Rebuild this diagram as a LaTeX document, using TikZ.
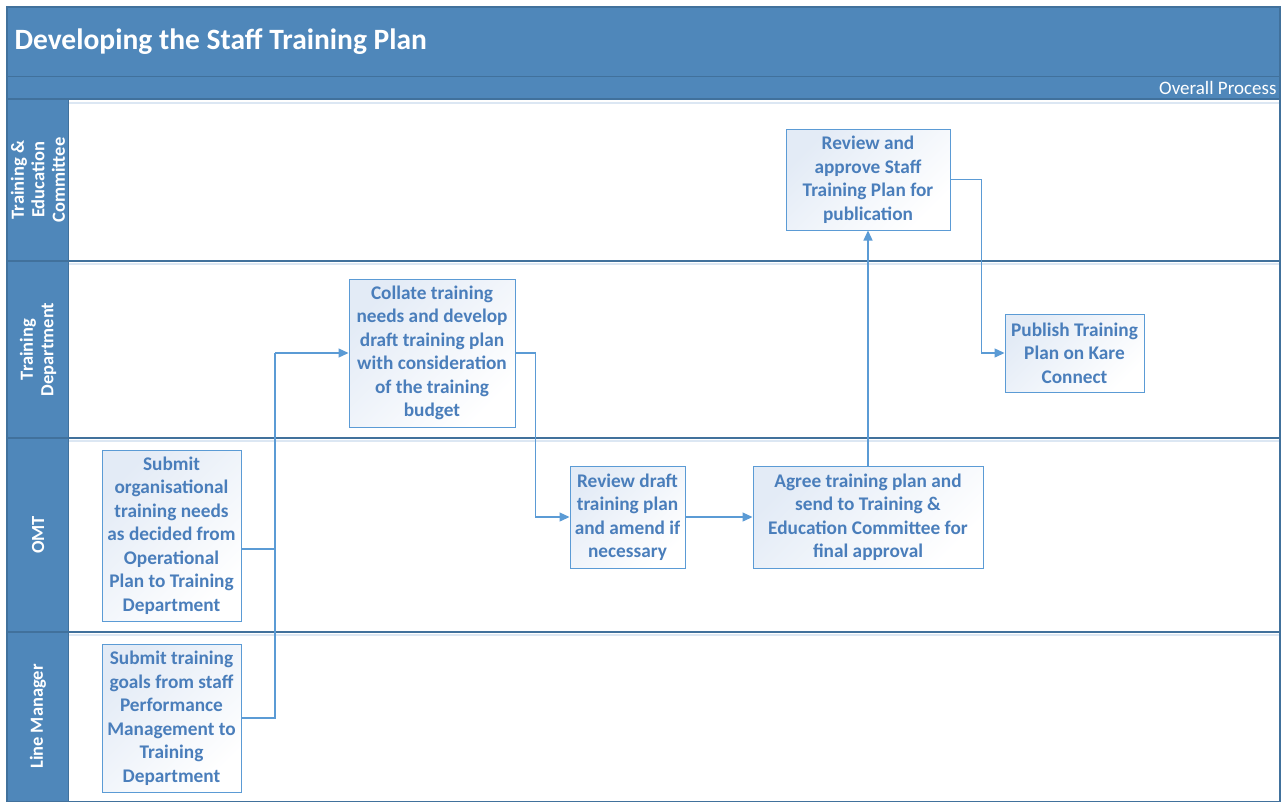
\documentclass[tikz,border=0pt]{standalone}
\usepackage{fontspec}
\setmainfont{Carlito}
\usetikzlibrary{arrows.meta,calc}
\definecolor{hdr}{HTML}{4F87BA}
\definecolor{hdrdark}{HTML}{41719C}
\definecolor{boxline}{HTML}{5B9BD5}
\definecolor{boxtext}{HTML}{4A7EBB}
\definecolor{boxfill}{HTML}{E3EBF6}
\definecolor{shadowc}{HTML}{DCE7F3}
\tikzset{
  box/.style={draw=boxline, line width=1pt, shading=axis, left color=boxfill, right color=white, shading angle=45,
    text=boxtext, font=\fontsize{19.3}{23.5}\selectfont\bfseries, align=center, inner sep=2pt},
  conn/.style={draw=boxline, line width=1.3pt, -{Triangle[length=10pt,width=9pt]}},
  link/.style={draw=boxline, line width=1.3pt},
  lanelbl/.style={rotate=90, text=white, font=\fontsize{18.5}{20.5}\selectfont\bfseries, align=center},
  laneline/.style={draw=hdrdark, line width=1.2pt},
  laneshadow/.style={draw=shadowc, line width=2pt}
}
\begin{document}
\begin{tikzpicture}[x=1pt,y=-1pt]
\useasboundingbox (0,0) rectangle (1284,801);
\fill[white] (0,0) rectangle (1284,801);
% header bands
\fill[hdr] (7,7) rectangle (1280,99);
\draw[hdrdark, line width=1pt] (7,76) -- (1280,76);
\node[anchor=west, text=white, font=\fontsize{29.5}{32}\selectfont\bfseries] (title) at (11,42) {Developing the Staff Training Plan};
\node[anchor=east, text=white, font=\fontsize{19}{21}\selectfont] (overall) at (1280,88) {Overall Process};
% lane label column
\fill[hdr] (7,99) rectangle (68,801);
% lane lines with shadows
\foreach \yy in {101,262,439,633} {\draw[laneshadow] (68,\yy+2) -- (1280,\yy+2);}
\foreach \yy in {99,261,438,632} {\draw[laneline] (7,\yy) -- (1280,\yy);}
\draw[hdrdark, line width=1pt] (68,99) -- (68,801);
\draw[hdrdark, line width=1.2pt] (7,7) rectangle (1280,802);
% lane labels
\node[lanelbl] (l1) at (38,180) {Training \&\\Education\\Committee};
\node[lanelbl] (l2) at (38,349.5) {Training\\Department};
\node[lanelbl] (l3) at (38,535) {OMT};
\node[lanelbl] (l4) at (38,716.5) {Line Manager};
% boxes
\node[box, minimum width=164, minimum height=101] (ra) at (868,179.5) {Review and\\approve Staff\\Training Plan for\\publication};
\node[box, minimum width=166, minimum height=148] (col) at (432,353) {Collate training\\needs and develop\\draft training plan\\with consideration\\of the training\\budget};
\node[box, minimum width=139, minimum height=78] (pub) at (1074.5,353) {Publish Training\\Plan on Kare\\Connect};
\node[box, minimum width=139, minimum height=171] (org) at (171.5,535.5) {Submit\\organisational\\training needs\\as decided from\\Operational\\Plan to Training\\Department};
\node[box, minimum width=115, minimum height=102] (rd) at (627.5,517) {Review draft\\training plan\\and amend if\\necessary};
\node[box, minimum width=230, minimum height=102] (ag) at (868,517) {Agree training plan and\\send to Training \&\\Education Committee for\\final approval};
\node[box, minimum width=139, minimum height=148] (lm) at (171.5,718) {Submit training\\goals from staff\\Performance\\Management to\\Training\\Department};
% connectors
\coordinate (oy) at (0,549);
\coordinate (j) at (275,353);
\draw[link] (org.east |- oy) -| (j);
\draw[link] (lm.east) -| (j);
\draw[conn] (j) -- (col.west);
\draw[conn] (col.east) -- ++(20,0) |- (rd.west);
\draw[conn] (rd.east) -- (ag.west);
\draw[conn] (ag.north) -- (ra.south);
\draw[conn] (ra.east) -- ++(31,0) |- (pub.west);
\end{tikzpicture}
\end{document}
